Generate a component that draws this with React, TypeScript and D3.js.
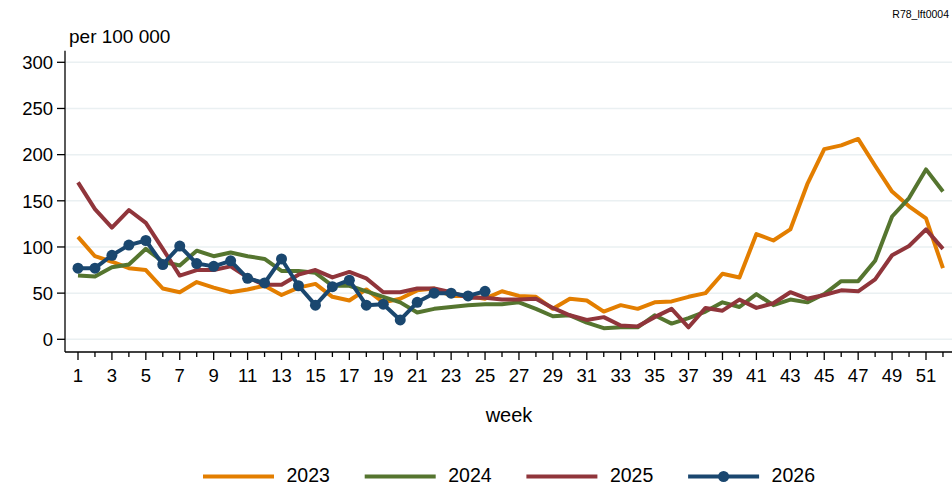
import React from "react";
import * as d3 from "d3";

const weeks = d3.range(1, 53);
const yTicks = [0, 50, 100, 150, 200, 250, 300];
const xMajorTicks = d3.range(1, 53, 2);
const xMinorTicks = d3.range(2, 53, 2);

const s2023 = [111, 90, 84, 77, 75, 55, 51, 62, 56, 51, 54, 58, 48, 56, 60, 46, 42, 54, 40, 44, 53, 55, 47, 47, 44, 52, 47, 46, 33, 44, 42, 30, 37, 33, 40, 41, 46, 50, 71, 67, 114, 107, 119, 168, 206, 210, 217, 188, 160, 144, 131, 77];
const s2024 = [69, 68, 78, 81, 98, 84, 80, 96, 90, 94, 90, 87, 74, 74, 72, 58, 58, 52, 46, 40, 29, 33, 35, 37, 38, 38, 40, 33, 25, 26, 18, 12, 13, 13, 26, 17, 23, 30, 40, 35, 49, 37, 43, 40, 49, 63, 63, 85, 133, 153, 184, 160];
const s2025 = [170, 141, 121, 140, 126, 98, 69, 75, 75, 79, 67, 59, 59, 70, 75, 67, 73, 66, 51, 51, 55, 55, 51, 45, 45, 43, 43, 44, 34, 26, 21, 24, 15, 14, 24, 33, 13, 34, 31, 43, 34, 39, 51, 44, 48, 53, 52, 65, 91, 101, 119, 98];
const s2026 = [77, 77, 91, 102, 107, 81, 101, 82, 79, 85, 66, 61, 87, 58, 37, 57, 64, 37, 38, 21, 40, 50, 50, 47, 52];

const seriesNames = ["2023", "2024", "2025", "2026"];
const seriesColors = ["#E37E00", "#55752F", "#90353B", "#1A476F"];

const W = 952;
const H = 486;
const FONT = "'Liberation Sans', Arial, Helvetica, sans-serif";

export default function App() {
  const x = d3.scaleLinear().domain([1, 51]).range([78, 926]);
  const y = d3.scaleLinear().domain([0, 300]).range([339.3, 62.3]);
  const axisLeft = 65;
  const axisBottom = 352;
  const axisTop = 50.7;

  const series = [s2023, s2024, s2025, s2026];
  const line = d3
    .line<number>()
    .x((_, i) => x(weeks[i]))
    .y((d) => y(d));

  return (
    <svg
      width={W}
      height={H}
      viewBox={`0 0 ${W} ${H}`}
      style={{ position: "absolute", left: 0, top: 0, background: "#fff" }}
      fontFamily={FONT}
    >
      <rect x={0} y={0} width={W} height={H} fill="#fff" />
      <text x={949} y={18} fontSize={10.5} textAnchor="end" fill="#000">
        R78_lft0004
      </text>
      <text x={69} y={43} fontSize={19} fill="#000">
        per 100 000
      </text>

      {/* gridlines */}
      {yTicks.map((t) => (
        <line
          key={"g" + t}
          x1={axisLeft + 1}
          x2={W}
          y1={y(t)}
          y2={y(t)}
          stroke="#EAF0F2"
          strokeWidth={1.5}
        />
      ))}

      {/* y axis */}
      <line x1={axisLeft} x2={axisLeft} y1={axisTop} y2={axisBottom} stroke="#000" strokeWidth={1.3} />
      {yTicks.map((t) => (
        <g key={"y" + t}>
          <line x1={axisLeft - 8} x2={axisLeft} y1={y(t)} y2={y(t)} stroke="#000" strokeWidth={1.3} />
          <text x={53} y={y(t) + 6.7} fontSize={18.5} textAnchor="end" fill="#000">
            {t}
          </text>
        </g>
      ))}

      {/* x axis */}
      <line x1={axisLeft} x2={W} y1={axisBottom} y2={axisBottom} stroke="#000" strokeWidth={1.3} />
      {xMajorTicks.map((t) => (
        <g key={"x" + t}>
          <line x1={x(t)} x2={x(t)} y1={axisBottom} y2={axisBottom + 8} stroke="#000" strokeWidth={1.3} />
          <text x={x(t)} y={381.5} fontSize={18.5} textAnchor="middle" fill="#000">
            {t}
          </text>
        </g>
      ))}
      {xMinorTicks.map((t) => (
        <line key={"m" + t} x1={x(t)} x2={x(t)} y1={axisBottom} y2={axisBottom + 5} stroke="#000" strokeWidth={1.3} />
      ))}
      <text x={509} y={421.5} fontSize={20} textAnchor="middle" fill="#000">
        week
      </text>

      {/* series */}
      {series.map((s, k) => (
        <path
          key={"s" + k}
          d={line(s) || ""}
          fill="none"
          stroke={seriesColors[k]}
          strokeWidth={4}
          strokeLinejoin="round"
        />
      ))}
      {s2026.map((v, i) => (
        <circle key={"c" + i} cx={x(weeks[i])} cy={y(v)} r={5.5} fill={seriesColors[3]} />
      ))}

      {/* legend */}
      {seriesNames.map((name, k) => {
        const x0 = 203 + k * 161.7;
        return (
          <g key={"l" + name}>
            <line x1={x0} x2={x0 + 71} y1={476.5} y2={476.5} stroke={seriesColors[k]} strokeWidth={4} />
            {k === 3 && <circle cx={x0 + 35.5} cy={476.5} r={5.5} fill={seriesColors[k]} />}
            <text x={x0 + 83.5} y={481.5} fontSize={19.5} fill="#000">
              {name}
            </text>
          </g>
        );
      })}
    </svg>
  );
}
